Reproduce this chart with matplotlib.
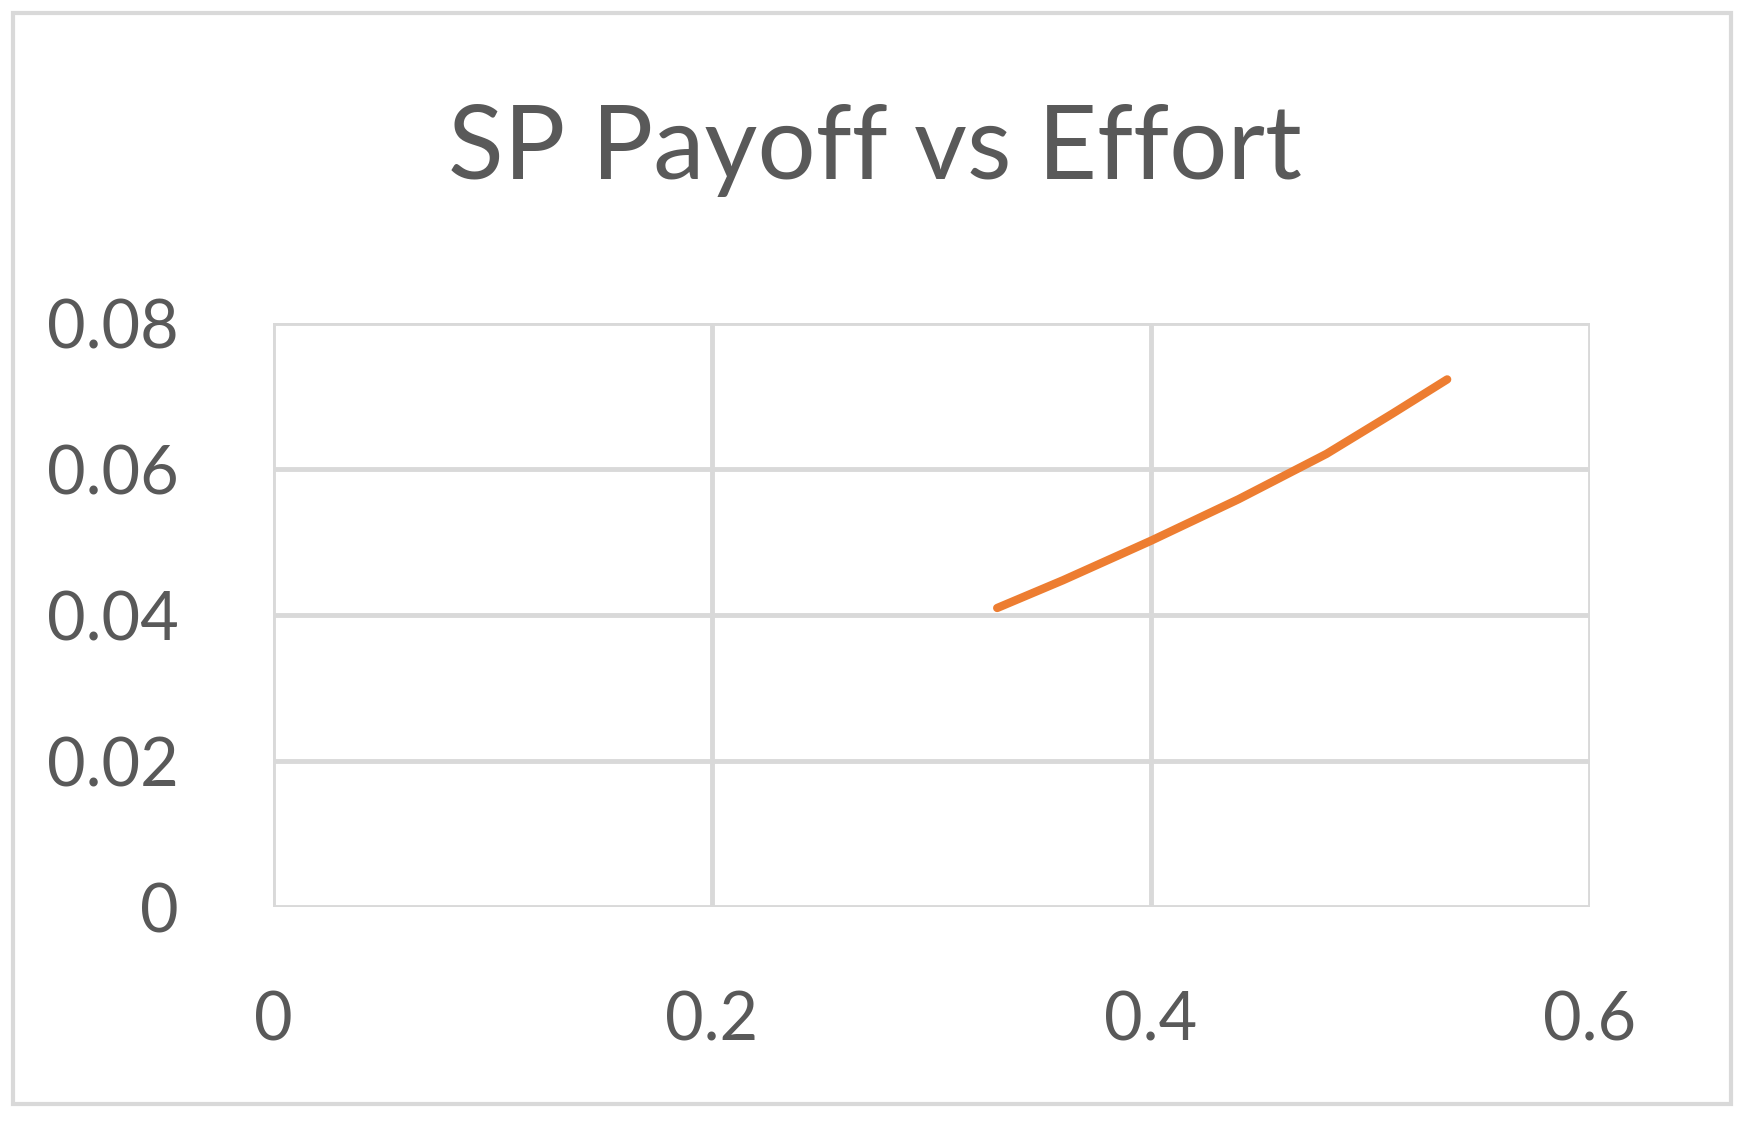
import matplotlib
matplotlib.use("Agg")
import matplotlib.pyplot as plt
from matplotlib.patches import Rectangle

effort = [0.33, 0.36, 0.40, 0.44, 0.48, 0.51, 0.535]
payoff = [0.0410, 0.0448, 0.0502, 0.0559, 0.0621, 0.0676, 0.0723]
xticks = [0, 0.2, 0.4, 0.6]
yticks = [0, 0.02, 0.04, 0.06, 0.08]
xlabels = ["0", "0.2", "0.4", "0.6"]
ylabels = ["0", "0.02", "0.04", "0.06", "0.08"]

plt.rcParams['font.family'] = ['Lato', 'DejaVu Sans']
fig = plt.figure(figsize=(17.49, 11.3), dpi=100)
fig.patches.append(Rectangle((13/1749, 1-1104/1130), (1731-13)/1749, (1104-13)/1130,
                             transform=fig.transFigure, fill=False, ec='#d9d9d9', lw=3))
ax = fig.add_axes([0.156, 0.197, 0.753, 0.517])
ax.plot(effort, payoff, color='#ED7D31', lw=6, solid_capstyle='round',
        solid_joinstyle='round', zorder=3)
ax.set_xlim(0, 0.6); ax.set_ylim(0, 0.08)
ax.set_xticks(xticks, xlabels); ax.set_yticks(yticks, ylabels)
ax.grid(True, color='#d9d9d9', lw=3.5)
for s in ax.spines.values():
    s.set_visible(False)
ax.tick_params(length=0, labelsize=48, labelcolor='#595959')
ax.tick_params(axis='x', pad=60)
ax.tick_params(axis='y', pad=68)
fig.text(0.5, 0.867, "SP Payoff vs Effort", ha='center', va='center', fontsize=74, color='#595959')
fig.savefig("out.png", dpi=100)
